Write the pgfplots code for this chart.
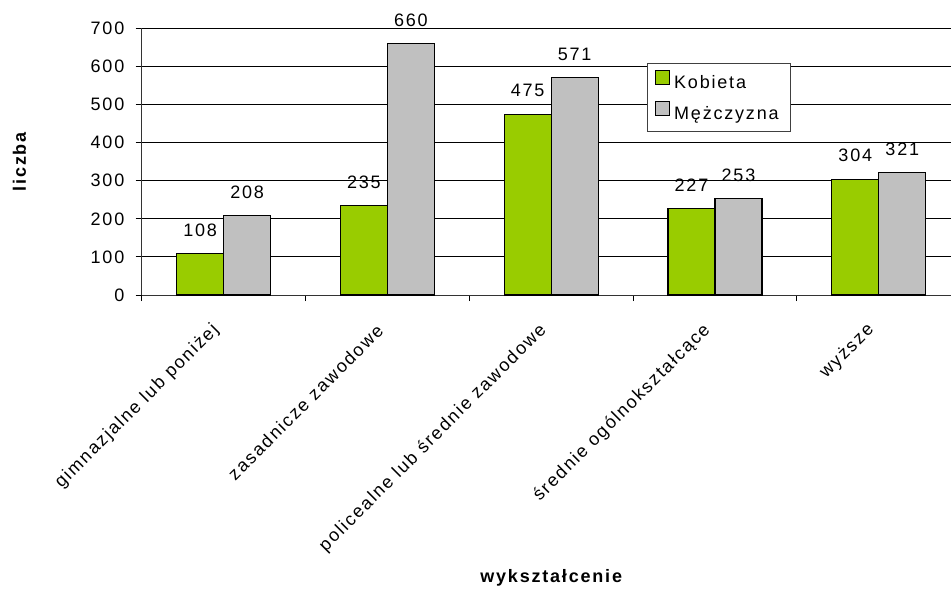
\documentclass[border=0pt]{standalone}
\usepackage{pgfplots}
\pgfplotsset{compat=1.18}
\usepackage{pgfplotstable}
\usepackage{fontspec}
\setmainfont{Liberation Sans}[LetterSpace=10]
\definecolor{zielony}{HTML}{99CC00}
\definecolor{szary}{HTML}{C0C0C0}
\pgfplotsset{
  kwadrat/.style={legend image code/.code={%
    \draw[##1, line width=0.5pt] (0pt,-0.2pt) rectangle (7pt,6.8pt);}},
}

\pgfplotstableread{
x k m
0 108 208
1 235 660
2 475 571
3 227 253
4 304 321
}\dane

\begin{document}
\fontsize{9}{10.8}\selectfont
\begin{tikzpicture}
\useasboundingbox (-70.85pt,-146.5pt) rectangle (404.65pt,147.5pt);
\begin{axis}[
  at={(0,0)}, anchor=south west,
  scale only axis, width=409.5pt, height=133.3pt,
  xmin=-0.5, xmax=4.5, ymin=0, ymax=700,
  ybar=0pt, bar width=23.5pt,
  axis lines*=left,
  axis line style={line width=0.5pt, black!80},
  tick align=outside, major tick length=3pt,
  tick style={black, line width=0.5pt},
  ytick={0,100,...,700},
  ymajorgrids, major grid style={black, line width=0.5pt},
  xtick={-0.5,0.5,1.5,2.5,3.5,4.5},
  x tick label as interval,
  xticklabels={gimnazjalne lub poniżej, zasadnicze zawodowe, policealne lub średnie zawodowe, średnie ogólnokształcące, wyższe},
  xticklabel style={yshift=-11pt, xshift=-1.5pt, rotate=45, anchor=east},
  yticklabel style={xshift=-2.5pt},
  /pgf/number format/assume math mode=true,
  ticklabel style={font=\fontsize{9}{10.8}\selectfont},
  xlabel={\bfseries wykształcenie},
  ylabel={\bfseries liczba},
  xlabel style={at={(axis description cs:0.5,-1.0615)}, anchor=center},
  ylabel style={at={(axis description cs:-0.1492,0.5)}, anchor=center},
  nodes near coords,
  every node near coord/.append style={inner sep=0pt, yshift=8.3pt, font=\fontsize{9}{10.8}\selectfont},
  legend style={at={(0.6166,0.869)}, anchor=north west, draw=black!75, fill=white,
    line width=0.5pt, inner xsep=4pt, inner ysep=3pt, row sep=3.8pt,
    nodes={inner ysep=1pt, inner xsep=2pt, text height=6pt, text depth=1.7pt},
    font=\fontsize{9}{10.8}\selectfont},
  legend cell align=left,
]
\addplot[fill=zielony, draw=black, line width=0.6pt, kwadrat]
  table[x=x, y=k] {\dane};
\addplot[fill=szary, draw=black, line width=0.6pt, kwadrat]
  table[x=x, y=m] {\dane};
\legend{Kobieta, Mężczyzna\hspace{6pt}}
\end{axis}
\end{tikzpicture}
\end{document}
